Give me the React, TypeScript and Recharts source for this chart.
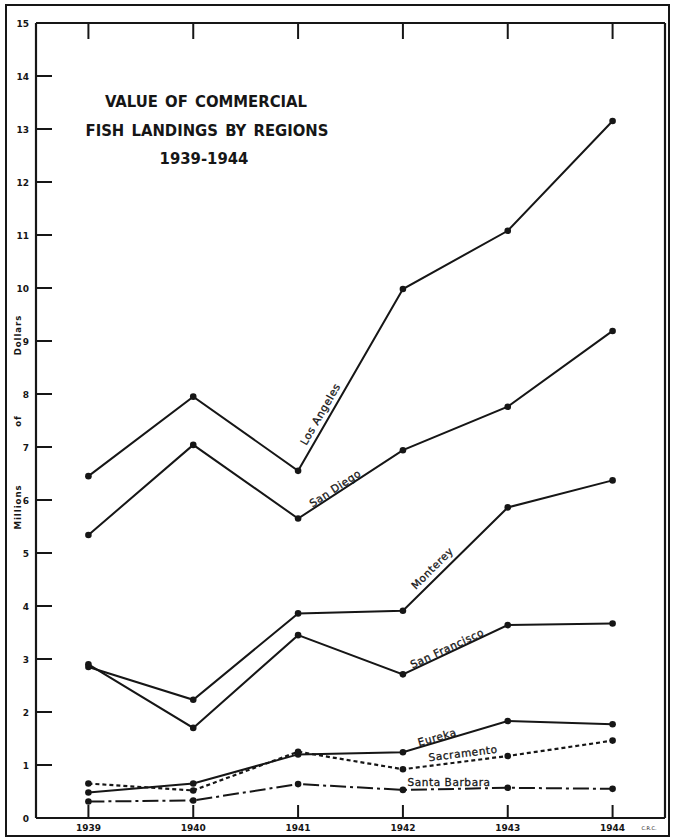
import { LineChart, Line, XAxis, YAxis } from "recharts";

const years = [1939, 1940, 1941, 1942, 1943, 1944];
const losAngeles = [6.45, 7.95, 6.55, 9.98, 11.08, 13.15];
const sanDiego = [5.34, 7.04, 5.65, 6.94, 7.76, 9.19];
const monterey = [2.85, 2.23, 3.86, 3.91, 5.86, 6.37];
const sanFrancisco = [2.9, 1.7, 3.45, 2.71, 3.64, 3.67];
const eureka = [0.48, 0.65, 1.2, 1.24, 1.83, 1.77];
const sacramento = [0.65, 0.52, 1.25, 0.92, 1.17, 1.46];
const santaBarbara = [0.31, 0.33, 0.64, 0.53, 0.57, 0.55];
const yTicks = [0, 1, 2, 3, 4, 5, 6, 7, 8, 9, 10, 11, 12, 13, 14, 15];

const data = years.map((year, i) => ({
  year,
  la: losAngeles[i],
  sd: sanDiego[i],
  mo: monterey[i],
  sf: sanFrancisco[i],
  eu: eureka[i],
  sac: sacramento[i],
  sb: santaBarbara[i],
}));

const W = 673;
const H = 840;
const PL = 36;
const PR = 665;
const PT = 23;
const PB = 818;
const AX = 8; // room each axis takes
const INK = "#161616";
const FONT = "'DejaVu Sans', sans-serif";
const COND = "'DejaVu Sans Condensed', 'DejaVu Sans', sans-serif";

const dot = { r: 3.3, fill: INK, stroke: INK, strokeWidth: 0 };

const LeftTick = ({ y, payload }: any) => (
  <g>
    <line x1={PL} x2={PL + 16} y1={y} y2={y} stroke={INK} strokeWidth={2} />
    <text x={PL - 7} y={y + 3.5} textAnchor="end" fontSize={9} fontWeight="bold" fontFamily={FONT} fill={INK}>
      {payload.value}
    </text>
  </g>
);

const RightTick = ({ y }: any) => (
  <line x1={PR - 18} x2={PR} y1={y} y2={y} stroke={INK} strokeWidth={2} />
);

const BottomTick = ({ x, payload }: any) => (
  <g>
    <line x1={x} x2={x} y1={PB} y2={PB - 13} stroke={INK} strokeWidth={2} />
    <text x={x} y={PB + 13} textAnchor="middle" fontSize={9} fontWeight="bold" fontFamily={FONT} fill={INK}>
      {payload.value}
    </text>
  </g>
);

const TopTick = ({ x }: any) => (
  <line x1={x} x2={x} y1={PT} y2={PT + 16} stroke={INK} strokeWidth={2} />
);

const seriesLabels = [
  { text: "Los Angeles", x: 320, y: 414, angle: -60 },
  { text: "San Diego", x: 335, y: 488, angle: -33 },
  { text: "Monterey", x: 432, y: 568, angle: -45 },
  { text: "San Francisco", x: 447, y: 648, angle: -25 },
  { text: "Eureka", x: 437, y: 737, angle: -16 },
  { text: "Sacramento", x: 463, y: 753, angle: -7 },
  { text: "Santa Barbara", x: 449, y: 782, angle: 0 },
];

export default function App() {
  const axisLine = { stroke: INK, strokeWidth: 2.2 };
  return (
    <div style={{ position: "absolute", left: 0, top: 0, width: W, height: H, background: "#fff" }}>
      <div
        style={{
          position: "absolute",
          left: 5,
          top: 4,
          width: 665,
          height: 833,
          boxSizing: "border-box",
          border: `2.5px solid ${INK}`,
        }}
      />
      <div style={{ position: "absolute", left: 0, top: 0 }}>
        <LineChart
          width={W}
          height={H}
          data={data}
          margin={{ top: PT - AX, right: W - PR - AX, bottom: H - PB - AX, left: PL - AX }}
        >
          <XAxis
            dataKey="year"
            type="number"
            domain={[1938.5, 1944.5]}
            ticks={years}
            interval={0}
            height={AX}
            axisLine={axisLine}
            tickLine={false}
            tick={<BottomTick />}
          />
          <XAxis
            xAxisId="top"
            orientation="top"
            dataKey="year"
            type="number"
            domain={[1938.5, 1944.5]}
            ticks={years}
            interval={0}
            height={AX}
            axisLine={axisLine}
            tickLine={false}
            tick={<TopTick />}
          />
          <YAxis
            type="number"
            domain={[0, 15]}
            ticks={yTicks}
            interval={0}
            width={AX}
            axisLine={axisLine}
            tickLine={false}
            tick={<LeftTick />}
          />
          <YAxis
            yAxisId="right"
            orientation="right"
            type="number"
            domain={[0, 15]}
            ticks={yTicks}
            interval={0}
            width={AX}
            axisLine={axisLine}
            tickLine={false}
            tick={<RightTick />}
          />
          <Line dataKey="la" stroke={INK} strokeWidth={2} dot={dot} isAnimationActive={false} />
          <Line dataKey="sd" stroke={INK} strokeWidth={2} dot={dot} isAnimationActive={false} />
          <Line dataKey="mo" stroke={INK} strokeWidth={2} dot={dot} isAnimationActive={false} />
          <Line dataKey="sf" stroke={INK} strokeWidth={2} dot={dot} isAnimationActive={false} />
          <Line dataKey="eu" stroke={INK} strokeWidth={2} dot={dot} isAnimationActive={false} />
          <Line dataKey="sac" stroke={INK} strokeWidth={2.2} strokeDasharray="4 3" dot={dot} isAnimationActive={false} />
          <Line dataKey="sb" stroke={INK} strokeWidth={2} strokeDasharray="16 4 3 4" dot={dot} isAnimationActive={false} />
        </LineChart>
      </div>
      <svg width={W} height={H} style={{ position: "absolute", left: 0, top: 0, pointerEvents: "none" }}>
        <g fontFamily={COND} fill={INK} textAnchor="middle" fontSize={16.5} fontWeight="bold" wordSpacing={2}>
          <text x={206} y={107}>VALUE OF COMMERCIAL</text>
          <text x={207} y={136}>FISH LANDINGS BY REGIONS</text>
          <text x={204} y={164}>1939-1944</text>
        </g>
        <g fontFamily={FONT} fill={INK} fontSize={8.5} fontWeight="bold" letterSpacing={1} textAnchor="middle">
          <text transform="translate(21,335) rotate(-90)">Dollars</text>
          <text transform="translate(21,421) rotate(-90)">of</text>
          <text transform="translate(21,507) rotate(-90)">Millions</text>
        </g>
        <g fontFamily={FONT} fill={INK} stroke={INK} strokeWidth={0.3} fontSize={10.5} textAnchor="middle" letterSpacing={0.6}>
          {seriesLabels.map((l) => (
            <text key={l.text} transform={`translate(${l.x},${l.y}) rotate(${l.angle})`} dy={4}>
              {l.text}
            </text>
          ))}
        </g>
        <text x={649} y={830} fontSize={5} fontFamily={FONT} fill={INK} textAnchor="middle">
          C.R.C.
        </text>
      </svg>
    </div>
  );
}
